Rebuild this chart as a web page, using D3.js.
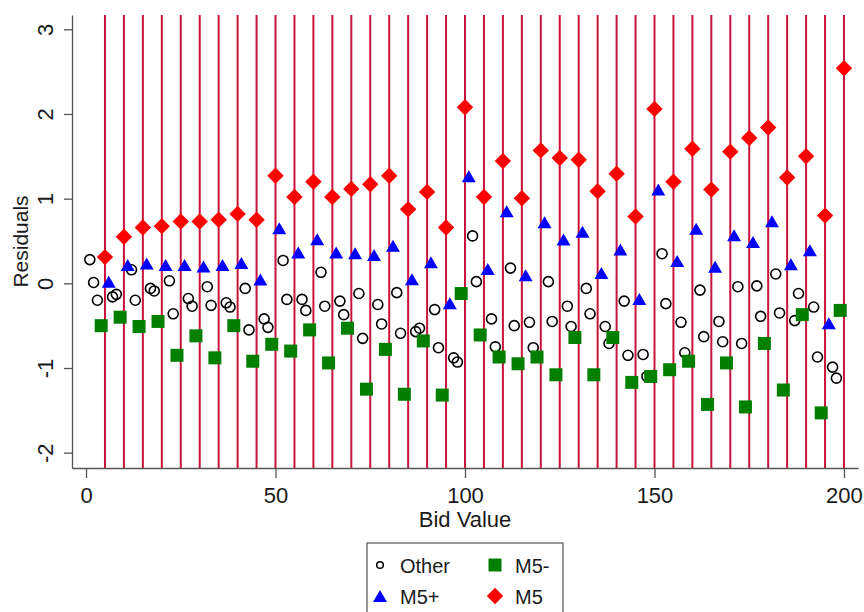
<!DOCTYPE html>
<html>
<head>
<meta charset="utf-8">
<script src="https://cdn.jsdelivr.net/npm/d3@7"></script>
<style>
  body { margin: 0; background: #fff; }
  text { font-family: "Liberation Sans", Arial, sans-serif; fill: #1a1a1a; }
</style>
</head>
<body>
<div id="chart"></div>
<script>
// bid values and residuals
const otherBid = [1, 2, 3, 7, 8, 12, 13, 17, 18, 22, 23, 27, 28, 32, 33, 37, 38, 42, 43, 47, 48,
  52, 53, 57, 58, 62, 63, 67, 68, 72, 73, 77, 78, 82, 83, 87, 88, 92, 93, 97, 98,
  102, 103, 107, 108, 112, 113, 117, 118, 122, 123, 127, 128, 132, 133, 137, 138, 142, 143, 147, 148,
  152, 153, 157, 158, 162, 163, 167, 168, 172, 173, 177, 178, 182, 183, 187, 188, 192, 193, 197, 198];
const otherRes = [0.28, 0.01, -0.20, -0.16, -0.13, 0.16, -0.20, -0.06, -0.09, 0.03, -0.36, -0.18, -0.27, -0.04, -0.26, -0.23, -0.28, -0.06, -0.55, -0.42, -0.52,
  0.27, -0.19, -0.19, -0.32, 0.13, -0.27, -0.21, -0.37, -0.12, -0.65, -0.25, -0.48, -0.11, -0.59, -0.57, -0.53, -0.31, -0.76, -0.88, -0.93,
  0.56, 0.02, -0.42, -0.75, 0.18, -0.50, -0.46, -0.76, 0.02, -0.45, -0.27, -0.51, -0.06, -0.36, -0.51, -0.71, -0.21, -0.85, -0.84, -1.10,
  0.35, -0.24, -0.46, -0.82, -0.08, -0.63, -0.45, -0.69, -0.04, -0.71, -0.03, -0.39, 0.11, -0.35, -0.44, -0.12, -0.28, -0.87, -0.99, -1.12];

const m5MinusBid = [4, 9, 14, 19, 24, 29, 34, 39, 44, 49, 54, 59, 64, 69, 74, 79, 84, 89, 94, 99,
  104, 109, 114, 119, 124, 129, 134, 139, 144, 149, 154, 159, 164, 169, 174, 179, 184, 189, 194, 199];
const m5MinusRes = [-0.50, -0.40, -0.51, -0.45, -0.85, -0.62, -0.88, -0.50, -0.92, -0.72, -0.80, -0.55, -0.94, -0.53, -1.25, -0.78, -1.31, -0.68, -1.32, -0.12,
  -0.61, -0.87, -0.95, -0.87, -1.08, -0.64, -1.08, -0.64, -1.17, -1.10, -1.02, -0.92, -1.43, -0.94, -1.46, -0.71, -1.26, -0.37, -1.53, -0.32];

const m5PlusBid = [6, 11, 16, 21, 26, 31, 36, 41, 46, 51, 56, 61, 66, 71, 76, 81, 86, 91, 96,
  101, 106, 111, 116, 121, 126, 131, 136, 141, 146, 151, 156, 161, 166, 171, 176, 181, 186, 191, 196];
const m5PlusRes = [0.02, 0.215, 0.235, 0.215, 0.215, 0.20, 0.215, 0.24, 0.045, 0.65, 0.365, 0.52, 0.365, 0.355, 0.335, 0.445, 0.047, 0.25, -0.235,
  1.265, 0.17, 0.852, 0.094, 0.72, 0.518, 0.608, 0.122, 0.40, -0.185, 1.107, 0.263, 0.644, 0.197, 0.569, 0.487, 0.734, 0.224, 0.392, -0.471];

const m5Bid = [5, 10, 15, 20, 25, 30, 35, 40, 45, 50, 55, 60, 65, 70, 75, 80, 85, 90, 95, 100,
  105, 110, 115, 120, 125, 130, 135, 140, 145, 150, 155, 160, 165, 170, 175, 180, 185, 190, 195, 200];
const m5Res = [0.31, 0.55, 0.66, 0.675, 0.73, 0.73, 0.75, 0.82, 0.75, 1.27, 1.02, 1.20, 1.02, 1.115, 1.17, 1.27, 0.875, 1.08, 0.66, 2.08,
  1.02, 1.445, 1.005, 1.57, 1.48, 1.46, 1.087, 1.295, 0.79, 2.06, 1.20, 1.59, 1.107, 1.555, 1.716, 1.84, 1.25, 1.50, 0.80, 2.54];

// reference lines (xline)
const xLines = [5, 10, 15, 20, 25, 30, 35, 40, 45, 50, 55, 60, 65, 70, 75, 80, 85, 90, 95, 100,
  105, 110, 115, 120, 125, 130, 135, 140, 145, 150, 155, 160, 165, 170, 175, 180, 185, 190, 195, 200];

const xTicks = [0, 50, 100, 150, 200];
const yTicks = [-2, -1, 0, 1, 2, 3];

const width = 864;
const height = 612;
const margin = { top: 15, right: 6, bottom: 144, left: 72 };

const x = d3.scaleLinear().domain([-3.7, 203.7]).range([margin.left, width - margin.right]);
const y = d3.scaleLinear().domain([-2.181, 3.169]).range([height - margin.bottom, margin.top]);

// marker shapes
const circlePath = r => `M${-r},0A${r},${r} 0 1,0 ${r},0A${r},${r} 0 1,0 ${-r},0Z`;
const squarePath = s => `M${-s / 2},${-s / 2}H${s / 2}V${s / 2}H${-s / 2}Z`;
const diamondPath = h => `M0,${-h}L${h},0L0,${h}L${-h},0Z`;
const trianglePath = (w, h) => `M0,${-h / 2}L${w / 2},${h / 2}L${-w / 2},${h / 2}Z`;

const series = [
  { name: 'Other', bid: otherBid, res: otherRes, d: circlePath(5), fill: 'none', stroke: '#000', sw: 1.6 },
  { name: 'M5-', bid: m5MinusBid, res: m5MinusRes, d: squarePath(13), fill: '#007f00', stroke: 'none', sw: 0 },
  { name: 'M5+', bid: m5PlusBid, res: m5PlusRes, d: trianglePath(14, 12), fill: '#0000ff', stroke: 'none', sw: 0 },
  { name: 'M5', bid: m5Bid, res: m5Res, d: diamondPath(8.2), fill: '#ff0000', stroke: 'none', sw: 0 }
];

const svg = d3.select('#chart')
  .append('svg')
  .attr('width', width)
  .attr('height', height)
  .style('background', '#fff');

// vertical lines
svg.append('g')
  .selectAll('line')
  .data(xLines)
  .enter()
  .append('line')
  .attr('x1', d => x(d))
  .attr('x2', d => x(d))
  .attr('y1', margin.top)
  .attr('y2', height - margin.bottom)
  .attr('stroke', '#c8143c')
  .attr('stroke-width', 2);

// axes
const xAxis = svg.append('g')
  .attr('transform', `translate(0,${height - margin.bottom})`)
  .call(d3.axisBottom(x).tickValues(xTicks).tickFormat(d => String(d)).tickSize(10).tickSizeOuter(0));

const yAxis = svg.append('g')
  .attr('transform', `translate(${margin.left},0)`)
  .call(d3.axisLeft(y).tickValues(yTicks).tickFormat(d => String(d)).tickSize(8).tickSizeOuter(0));

[xAxis, yAxis].forEach(a => {
  a.select('.domain').attr('stroke', '#555').attr('stroke-width', 1.3);
  a.selectAll('.tick line').attr('stroke', '#555').attr('stroke-width', 1.3);
  a.selectAll('.tick text')
    .style('font-size', '22px')
    .attr('fill', '#111');
});

xAxis.selectAll('.tick text')
  .attr('y', 35)
  .attr('dy', 0);

yAxis.selectAll('.tick text')
  .attr('x', 0)
  .attr('y', -19)
  .attr('dy', 0)
  .attr('text-anchor', 'middle')
  .attr('transform', 'rotate(-90)');

// axis titles
svg.append('text')
  .attr('x', (margin.left + width - margin.right) / 2)
  .attr('y', 527)
  .attr('text-anchor', 'middle')
  .style('font-size', '22px')
  .text('Bid Value');

svg.append('text')
  .attr('transform', `translate(28,${(margin.top + height - margin.bottom) / 2}) rotate(-90)`)
  .attr('text-anchor', 'middle')
  .style('font-size', '21px')
  .text('Residuals');

// markers
series.forEach(s => {
  svg.append('g')
    .selectAll('path')
    .data(s.bid.map((b, i) => [b, s.res[i]]))
    .enter()
    .append('path')
    .attr('transform', d => `translate(${x(d[0])},${y(d[1])})`)
    .attr('d', s.d)
    .attr('fill', s.fill)
    .attr('stroke', s.stroke)
    .attr('stroke-width', s.sw);
});

// legend
const legend = svg.append('g').attr('transform', 'translate(367,543)');

legend.append('rect')
  .attr('width', 196)
  .attr('height', 90)
  .attr('fill', '#fff')
  .attr('stroke', '#333')
  .attr('stroke-width', 1);

const legendPos = [
  { col: 0, row: 0 }, // Other
  { col: 1, row: 0 }, // M5-
  { col: 0, row: 1 }, // M5+
  { col: 1, row: 1 } // M5
];

series.forEach((s, i) => {
  const p = legendPos[i];
  const g = legend.append('g')
    .attr('transform', `translate(${13 + p.col * 115},${22 + p.row * 31})`);
  g.append('path')
    .attr('d', i === 0 ? circlePath(3.3) : s.d)
    .attr('fill', s.fill)
    .attr('stroke', s.stroke)
    .attr('stroke-width', i === 0 ? 1.5 : 0);
  g.append('text')
    .attr('x', 20)
    .attr('y', 7.5)
    .style('font-size', '20px')
    .text(s.name);
});
</script>
</body>
</html>
